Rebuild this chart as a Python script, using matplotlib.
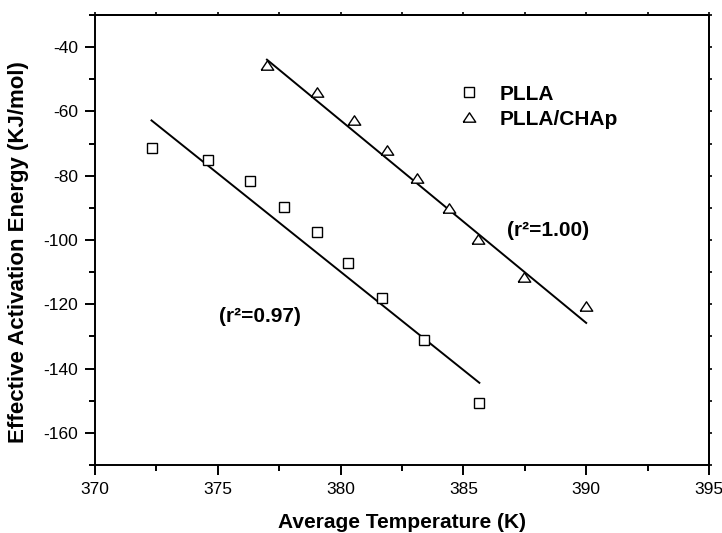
import numpy as np
import matplotlib
matplotlib.use('Agg')
import matplotlib.pyplot as plt
from matplotlib.ticker import MultipleLocator

plt.rcParams['font.family'] = ['Liberation Sans', 'DejaVu Sans']
plt.rcParams['axes.unicode_minus'] = False

# PLLA data
plla_temp = [372.3, 374.6, 376.3, 377.7, 379.05, 380.3, 381.7, 383.4, 385.65]
plla_energy = [-71.4, -75.2, -81.8, -89.6, -97.6, -107.2, -117.9, -131.0, -150.7]

# PLLA/CHAp data
chap_temp = [377.0, 379.05, 380.55, 381.9, 383.1, 384.4, 385.6, 387.45, 390.0]
chap_energy = [-45.7, -54.1, -62.8, -71.9, -80.6, -90.0, -99.7, -111.6, -120.5]

# linear fits as drawn in the original: slope and value at the first point
plla_fit_slope = -6.115
plla_fit_start = -62.8
chap_fit_slope = -6.30
chap_fit_start = -43.9

series_labels = ['PLLA', 'PLLA/CHAp']
r2_labels = ['(r\u00b2=0.97)', '(r\u00b2=1.00)']

# triangle a bit wider than tall, like the original
tri = [(-1, -0.75), (1, -0.75), (0, 0.75), (-1, -0.75)]

fig = plt.figure(figsize=(7.22, 5.33), dpi=100)
ax = fig.add_axes([0.1316, 0.1276, 0.8504, 0.8443])

ax.plot(plla_temp, plla_energy, linestyle='none', marker='s', markersize=6.5,
        markerfacecolor='white', markeredgecolor='black', markeredgewidth=1.0,
        label=series_labels[0], zorder=3)
ax.plot(chap_temp, chap_energy, linestyle='none', marker=tri, markersize=9,
        markerfacecolor='white', markeredgecolor='black', markeredgewidth=1.0,
        label=series_labels[1], zorder=3)

# fit lines over the range of each series
for xs, k, y0 in [(plla_temp, plla_fit_slope, plla_fit_start),
                  (chap_temp, chap_fit_slope, chap_fit_start)]:
    xx = np.array([min(xs), max(xs)])
    ax.plot(xx, y0 + k * (xx - xx[0]), color='black', linewidth=1.4, zorder=2)

ax.text(376.72, -123.9, r2_labels[0], fontsize=15, fontweight='bold',
        ha='center', va='center')
ax.text(388.46, -96.9, r2_labels[1], fontsize=15, fontweight='bold',
        ha='center', va='center')

ax.set_xlim(370, 395)
ax.set_ylim(-170, -30)
ax.xaxis.set_major_locator(MultipleLocator(5))
ax.xaxis.set_minor_locator(MultipleLocator(2.5))
ax.yaxis.set_major_locator(MultipleLocator(20))
ax.yaxis.set_minor_locator(MultipleLocator(10))

for s in ax.spines.values():
    s.set_linewidth(1.4)
ax.tick_params(which='major', direction='out', length=7, width=1.4,
               labelsize=12.5, pad=5)
ax.tick_params(which='minor', direction='out', length=4, width=1.4)

# small ticks on the top and right edges
top = ax.secondary_xaxis('top')
top.xaxis.set_major_locator(MultipleLocator(2.5))
top.tick_params(length=2.5, width=1.2, labeltop=False)
top.spines['top'].set_linewidth(1.4)
right = ax.secondary_yaxis('right')
right.yaxis.set_major_locator(MultipleLocator(10))
right.tick_params(length=2.5, width=1.2, labelright=False)
right.spines['right'].set_linewidth(1.4)

ax.set_xlabel('Average Temperature (K)', fontsize=15, fontweight='bold', labelpad=12)
ax.set_ylabel('Effective Activation Energy (KJ/mol)', fontsize=16, fontweight='bold')
ax.yaxis.set_label_coords(-0.107, 0.473)

leg = ax.legend(loc='upper left', bbox_to_anchor=(0.578, 0.864), frameon=False,
                prop={'size': 15, 'weight': 'bold'}, handlelength=1.0,
                handletextpad=1.0, labelspacing=0.3, borderaxespad=0)

fig.savefig('out.png', dpi=100)
